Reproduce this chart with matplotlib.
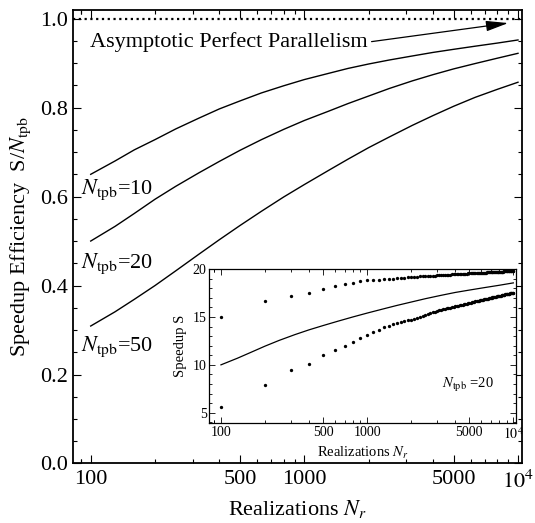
import numpy as np
import matplotlib
matplotlib.use("Agg")
import matplotlib.pyplot as plt
from matplotlib.ticker import FixedLocator, NullFormatter, MultipleLocator

# ---------------- data ----------------
main_nr = [100, 130, 160, 200, 250, 320, 400, 500, 630, 800, 1000,
           1300, 1600, 2000, 2500, 3200, 4000, 5000, 6300, 8000, 10000]
eff_10 = [0.650, 0.680, 0.705, 0.728, 0.752, 0.776, 0.797, 0.815, 0.833, 0.849, 0.863,
          0.877, 0.888, 0.898, 0.907, 0.916, 0.924, 0.931, 0.938, 0.945, 0.952]
eff_20 = [0.500, 0.533, 0.562, 0.594, 0.623, 0.653, 0.679, 0.704, 0.728, 0.751, 0.771,
          0.792, 0.809, 0.826, 0.843, 0.860, 0.874, 0.887, 0.899, 0.911, 0.922]
eff_50 = [0.309, 0.341, 0.369, 0.400, 0.433, 0.470, 0.503, 0.535, 0.567, 0.599, 0.627,
          0.659, 0.684, 0.710, 0.734, 0.760, 0.782, 0.803, 0.823, 0.841, 0.857]
labels_main = [r"$N_{\rm tpb}$=10", r"$N_{\rm tpb}$=20", r"$N_{\rm tpb}$=50"]

inset_line_nr = main_nr
inset_line_s = [10.0, 10.7, 11.3, 11.95, 12.55, 13.15, 13.65, 14.1, 14.55, 15.0, 15.4,
                15.85, 16.2, 16.55, 16.9, 17.25, 17.55, 17.8, 18.05, 18.3, 18.55]

inset_nr = list(range(100, 10001, 100))
upper_s = [14.96, 16.62, 17.22, 17.50, 17.96, 18.20, 18.45, 18.56, 18.73, 18.80,
           18.84, 18.88, 18.92, 18.96, 19.00, 19.03, 19.06, 19.09, 19.12, 19.15,
           19.17, 19.19, 19.25, 19.26, 19.27, 19.28, 19.30, 19.31, 19.32, 19.33,
           19.34, 19.36, 19.37, 19.38, 19.40, 19.41, 19.42, 19.43, 19.45, 19.46,
           19.46, 19.47, 19.48, 19.49, 19.50, 19.51, 19.52, 19.52, 19.53, 19.54,
           19.55, 19.55, 19.56, 19.57, 19.57, 19.58, 19.59, 19.59, 19.60, 19.60,
           19.61, 19.62, 19.62, 19.63, 19.63, 19.64, 19.64, 19.65, 19.65, 19.66,
           19.66, 19.67, 19.67, 19.68, 19.68, 19.69, 19.69, 19.70, 19.70, 19.71,
           19.71, 19.72, 19.72, 19.73, 19.73, 19.74, 19.74, 19.75, 19.75, 19.76,
           19.76, 19.77, 19.77, 19.78, 19.78, 19.79, 19.79, 19.80, 19.81, 19.82]
lower_s = [5.60, 7.89, 9.51, 10.04, 10.99, 11.58, 11.94, 12.43, 12.75, 13.10,
           13.40, 13.68, 13.92, 14.10, 14.28, 14.40, 14.50, 14.58, 14.64, 14.70,
           14.80, 14.90, 15.02, 15.10, 15.18, 15.28, 15.38, 15.47, 15.55, 15.62,
           15.68, 15.73, 15.78, 15.84, 15.88, 15.93, 15.97, 16.01, 16.05, 16.09,
           16.13, 16.17, 16.20, 16.24, 16.28, 16.31, 16.35, 16.38, 16.42, 16.45,
           16.48, 16.51, 16.55, 16.58, 16.61, 16.64, 16.67, 16.70, 16.72, 16.75,
           16.77, 16.80, 16.82, 16.85, 16.87, 16.90, 16.92, 16.94, 16.96, 16.98,
           17.00, 17.03, 17.05, 17.07, 17.09, 17.11, 17.13, 17.15, 17.17, 17.19,
           17.21, 17.23, 17.25, 17.27, 17.29, 17.31, 17.33, 17.35, 17.36, 17.38,
           17.40, 17.41, 17.43, 17.44, 17.45, 17.46, 17.47, 17.48, 17.49, 17.50]

x_ticks = [100, 500, 1000, 5000, 10000]
x_ticklabels = ["100", "500", "1000", "5000", r"$10^4$"]
y_ticks_main = [0.0, 0.2, 0.4, 0.6, 0.8, 1.0]
y_ticks_inset = [5, 10, 15, 20]

# ---------------- style ----------------
plt.rcParams["font.family"] = ["Liberation Serif", "DejaVu Serif"]
plt.rcParams["mathtext.fontset"] = "stix"

fig = plt.figure(figsize=(5.35, 5.23), dpi=100)
ax = fig.add_axes([0.1364, 0.1138, 0.8393, 0.8672])
ax.set_xscale("log")
ax.set_xlim(82.6, 10440)
ax.set_ylim(0, 1.0195)

for eff in (eff_10, eff_20, eff_50):
    ax.plot(main_nr, eff, color="black", lw=1.0)

ax.axhline(1.0, color="black", lw=1.6, ls=(0, (1, 1.6)))

ax.annotate("Asymptotic Perfect Parallelism", xy=(9000, 0.99), xytext=(99, 0.947),
            fontsize=16, va="center", ha="left",
            arrowprops=dict(arrowstyle="-|>,head_length=0.85,head_width=0.2",
                            color="black", lw=0.9, relpos=(1.0, 0.5),
                            shrinkA=1, shrinkB=0))

for lab, yv in zip(labels_main, [0.615, 0.449, 0.262]):
    ax.text(90, yv, lab, fontsize=16, va="center", ha="left")

ax.xaxis.set_major_locator(FixedLocator(x_ticks))
ax.set_xticklabels(x_ticklabels)
ax.xaxis.set_minor_locator(FixedLocator([n * 10 ** k for k in (1, 2, 3) for n in range(2, 10)] + [90]))
ax.xaxis.set_minor_formatter(NullFormatter())
ax.set_yticks(y_ticks_main)
ax.set_yticklabels(["%.1f" % v for v in y_ticks_main])
ax.yaxis.set_minor_locator(MultipleLocator(0.05))
ax.tick_params(which="both", direction="in", top=True, right=True, labelsize=16, width=0.8)
ax.tick_params(which="major", length=6)
ax.tick_params(which="minor", length=3)
ax.tick_params(axis="x", pad=5)
for s in ax.spines.values():
    s.set_linewidth(1.3)
ax.set_xlabel(r"Realizations $N_r$", fontsize=16, labelpad=4)
ax.set_ylabel(r"Speedup Efficiency  S/$N_{\rm tpb}$", fontsize=16, labelpad=5)

# ---------------- inset ----------------
ax2 = fig.add_axes([0.3912, 0.1906, 0.5733, 0.296])
ax2.set_xscale("log")
ax2.set_xlim(83.2, 10430)
ax2.set_ylim(3.9, 20.05)
ax2.plot(inset_nr, upper_s, "o", color="black", ms=2.4, mew=0)
ax2.plot(inset_nr, lower_s, "o", color="black", ms=2.4, mew=0)
ax2.plot(inset_line_nr, inset_line_s, color="black", lw=0.9)
ax2.text(3250, 7.86, r"$N_{\rm tpb}$ =20", fontsize=10.5, va="center", ha="left")
ax2.xaxis.set_major_locator(FixedLocator(x_ticks))
ax2.set_xticklabels(x_ticklabels)
ax2.xaxis.set_minor_locator(FixedLocator([n * 10 ** k for k in (1, 2, 3) for n in range(2, 10)] + [90]))
ax2.xaxis.set_minor_formatter(NullFormatter())
ax2.set_yticks(y_ticks_inset)
ax2.yaxis.set_minor_locator(MultipleLocator(1))
ax2.tick_params(which="both", direction="in", top=True, right=True, labelsize=10, width=0.6, pad=2)
ax2.tick_params(which="major", length=4)
ax2.tick_params(which="minor", length=2)
for s in ax2.spines.values():
    s.set_linewidth(0.9)
ax2.set_xlabel(r"Realizations $N_r$", fontsize=10.5, labelpad=2)
ax2.set_ylabel("Speedup S", fontsize=10.5, labelpad=4)

fig.savefig("out.png", dpi=100)
